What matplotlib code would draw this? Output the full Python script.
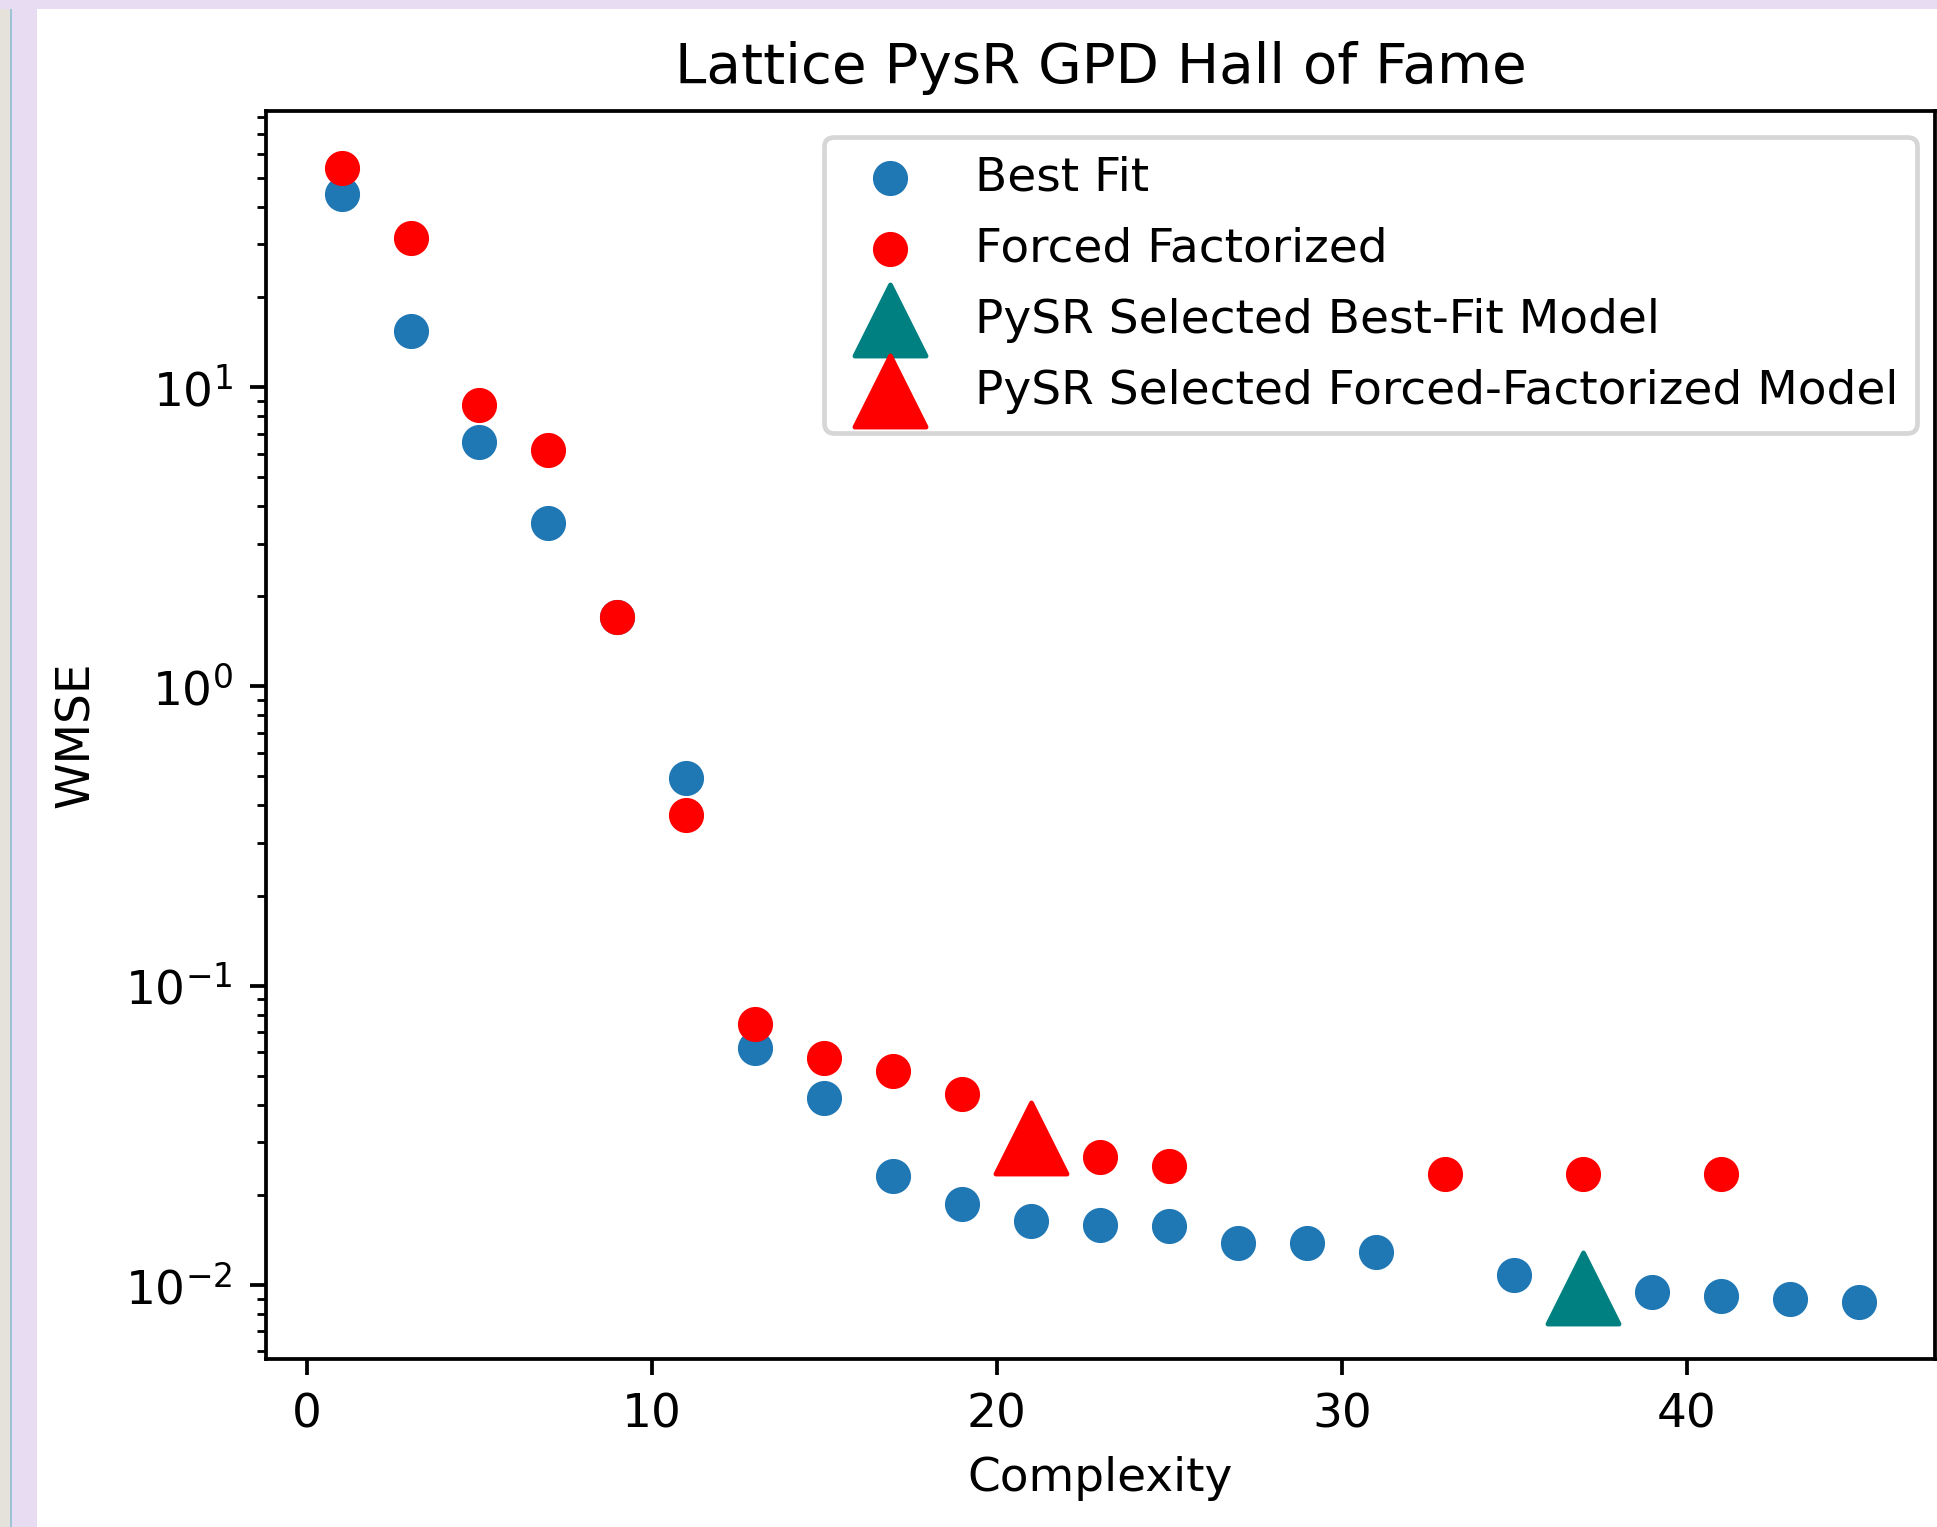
import matplotlib
matplotlib.use("Agg")
import matplotlib.pyplot as plt
from matplotlib.patches import Rectangle

# Hall of fame losses per complexity
best_complexity = [1, 3, 5, 7, 9, 11, 13, 15, 17, 19, 21, 23, 25, 27, 29, 31, 35, 39, 41, 43, 45]
best_wmse = [44.1, 15.4, 6.55, 3.52, 1.70, 0.494, 0.0621, 0.0421, 0.0231, 0.0186, 0.0163, 0.0158,
             0.0157, 0.0138, 0.0138, 0.0129, 0.0108, 0.00945, 0.00921, 0.00898, 0.00875]

forced_complexity = [1, 3, 5, 7, 9, 11, 13, 15, 17, 19, 21, 23, 25, 33, 37, 41]
forced_wmse = [54.2, 31.4, 8.70, 6.15, 1.70, 0.371, 0.0745, 0.0571, 0.0518, 0.0436, 0.0310, 0.0268,
               0.0249, 0.0235, 0.0235, 0.0235]

# models picked by PySR
selected_best = (37, 0.00977)
selected_forced = (21, 0.0310)

DPI = 338
fig = plt.figure(figsize=(1937.2 / DPI, 1527.2 / DPI), dpi=DPI)
fig.patch.set_facecolor("white")

W, H = 1937.0, 1527.0
ax = fig.add_axes([265.6 / W, 1 - 1359 / H, (1935 - 265.6) / W, (1359 - 111) / H])

ax.scatter(best_complexity, best_wmse, s=42, label="Best Fit")
ax.scatter(forced_complexity, forced_wmse, s=42, color="red", label="Forced Factorized")
ax.scatter(*selected_best, marker="^", s=230, color="teal", label="PySR Selected Best-Fit Model")
ax.scatter(*selected_forced, marker="^", s=230, color="red", label="PySR Selected Forced-Factorized Model")

ax.set_yscale("log")
ax.set_xlabel("Complexity")
ax.set_ylabel("WMSE", labelpad=5.6)
ax.set_title("Lattice PysR GPD Hall of Fame")
ax.legend(loc="upper right", labelspacing=0.555, bbox_to_anchor=(1.003, 0.998))

# window frame around the output cell
frame = [
    ((0, 0), 11, H, "#e4e2da"),
    ((10, 0), 2, H, "#9fc3d6"),
    ((12, 0), 25, H, "#e8dcf3"),
    ((0, H - 9), W, 9, "#e8dcf3"),
]
for (x0, y0), w, h, c in frame:
    fig.patches.append(Rectangle((x0 / W, y0 / H), w / W, h / H, transform=fig.transFigure,
                                 facecolor=c, edgecolor="none", zorder=10))

fig.savefig("out.png", dpi=DPI)
